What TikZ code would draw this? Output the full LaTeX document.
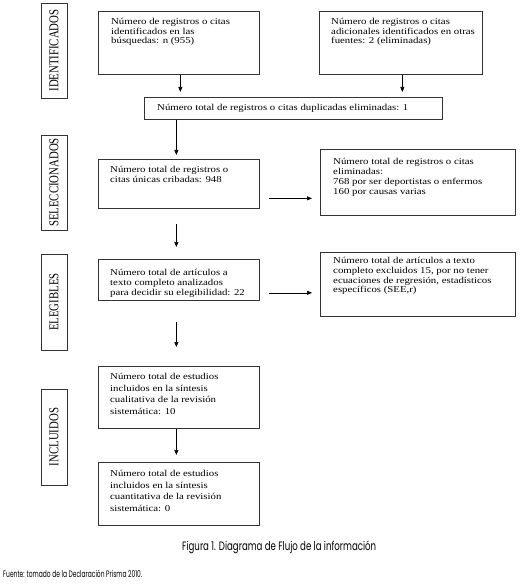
\documentclass[tikz,border=0pt]{standalone}
\usepackage{fontspec}
\setmainfont{Liberation Serif}[FakeStretch=1.2]
\newfontfamily\labfont{Liberation Serif}[FakeStretch=0.8]
\newfontfamily\capfont{Poppins}
\usetikzlibrary{arrows.meta,calc}
\begin{document}
\begin{tikzpicture}[x=1pt,y=-1pt,
  box/.style={draw=black!80, line width=0.7pt, anchor=north west, inner sep=0pt},
  txt/.style={anchor=north west, inner sep=0pt, align=left, font=\fontsize{9}{9.6}\selectfont},
  txtb/.style={txt, font=\fontsize{9}{11.7}\selectfont},
  lab/.style={draw=black!80, line width=0.7pt, inner sep=0pt, rotate=90, minimum height=26pt, font=\labfont\fontsize{13.5}{14}\selectfont},
  arr/.style={-{Triangle[length=5pt,width=4pt]}, line width=0.7pt}]
\useasboundingbox (0,0) rectangle (531,585);
% side labels
\node[lab, minimum width=95pt] (L1) at (54,50.5) {IDENTIFICADOS};
\node[lab, minimum width=95pt] (L2) at (54,182.5) {SELECCIONADOS};
\node[lab, minimum width=96pt] (L3) at (54,302) {ELEGIBLES};
\node[lab, minimum width=96pt] (L4) at (54,437) {INCLUIDOS};
% boxes
\node[box, minimum width=161pt, minimum height=63pt] (A) at (98,11) {};
\node[box, minimum width=163pt, minimum height=63pt] (B) at (319,11) {};
\node[box, minimum width=298pt, minimum height=22pt] (Dup) at (144,97) {};
\node[box, minimum width=161pt, minimum height=49pt] (C) at (98,159) {};
\node[box, minimum width=195pt, minimum height=66pt] (D) at (320,149) {};
\node[box, minimum width=161pt, minimum height=41pt] (E) at (98,259) {};
\node[box, minimum width=195pt, minimum height=64pt] (F) at (320,252) {};
\node[box, minimum width=161pt, minimum height=62pt] (G) at (98,366) {};
\node[box, minimum width=161pt, minimum height=63pt] (H) at (98,462) {};
% texts
\node[txt] (At) at (111,18) {Número de registros o citas\\identificados en las\\búsquedas: n (955)};
\node[txt] (Bt) at (331,18) {Número de registros o citas\\adicionales identificados en otras\\fuentes: 2 (eliminadas)};
\node[anchor=base west, inner sep=0pt, font=\fontsize{9}{9.6}\selectfont] (Dupt) at (157,111) {Número total de registros o citas duplicadas eliminadas: 1};
\node[txt] (Ct) at (110,166) {Número total de registros o\\citas únicas cribadas: 948};
\node[txt, font=\fontsize{9}{9.9}\selectfont] (Dt) at (333,158.5) {Número total de registros o citas\\eliminadas:\\768 por ser deportistas o enfermos\\160 por causas varias};
\node[txt] (Et) at (110,269.5) {Número total de artículos a\\texto completo analizados\\para decidir su elegibilidad: 22};
\node[txt] (Ft) at (333,257.5) {Número total de artículos a texto\\completo excluidos 15, por no tener\\ecuaciones de regresión, estadísticos\\específicos (SEE,r)};
\node[txtb] (Gt) at (110,373) {Número total de estudios\\incluidos en la síntesis\\cualitativa de la revisión\\sistemática: 10};
\node[txtb] (Ht) at (110,470) {Número total de estudios\\incluidos en la síntesis\\cuantitativa de la revisión\\sistemática: 0};
% arrows
\draw[arr, shorten >=5pt] ([xshift=1.5pt]A.south) -- ([xshift=1.5pt]A.south |- Dup.north);
\draw[arr, shorten >=5pt] ([xshift=1.5pt]B.south) -- ([xshift=1.5pt]B.south |- Dup.north);
\draw[arr, shorten >=4pt] ([xshift=-2.5pt]C.north |- Dup.south) -- ([xshift=-2.5pt]C.north);
\draw[arr, shorten <=9pt, shorten >=8pt] ([yshift=-14.5pt]C.east) -- ([yshift=-14.5pt]C.east -| D.west);
\draw[arr, shorten <=15pt, shorten >=12pt] ([xshift=-2.5pt]C.south) -- ([xshift=-2.5pt]C.south |- E.north);
\draw[arr, shorten <=9pt, shorten >=8pt] ([yshift=-13pt]E.east) -- ([yshift=-13pt]E.east -| F.west);
\draw[arr, shorten <=21pt, shorten >=19pt] ([xshift=-2.5pt]E.south) -- ([xshift=-2.5pt]E.south |- G.north);
\draw[arr, shorten >=7pt] ([xshift=-2.5pt]G.south) -- ([xshift=-2.5pt]G.south |- H.north);
% caption and source
\node[anchor=base west, inner sep=0pt] (cap) at (182,550) {\resizebox{194pt}{9.6pt}{\capfont Figura 1. Diagrama de Flujo de la información}};
\node[anchor=base west, inner sep=0pt] (src) at (3,577) {\resizebox{139pt}{7.4pt}{\capfont Fuente: tomado de la Declaración Prisma 2010.}};
\end{tikzpicture}
\end{document}
